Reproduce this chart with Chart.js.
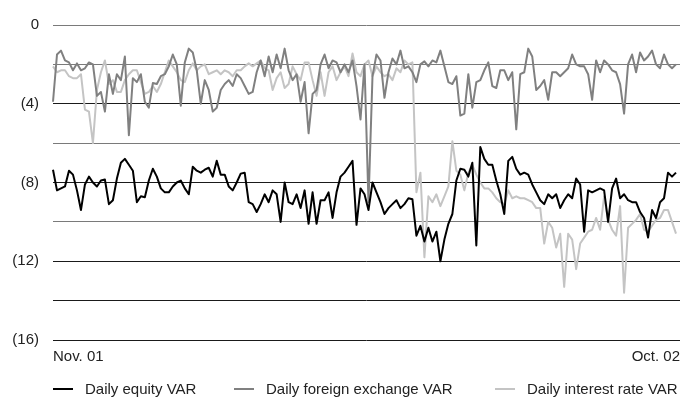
<!DOCTYPE html>
<html>
<head>
<meta charset="utf-8">
<script src="https://cdn.jsdelivr.net/npm/chart.js@4"></script>
<style>
  html, body { margin: 0; padding: 0; background: #fff; }
  #wrap { position: relative; width: 680px; height: 401px; }
  #legend { position: absolute; left: 0; top: 379px; width: 680px; height: 20px;
            font-family: "Liberation Sans", Arial, sans-serif; font-size: 15px; color: #222; }
  .item { position: absolute; top: 0; height: 20px; line-height: 20px; white-space: nowrap; }
  .dash { display: inline-block; width: 20px; height: 2px; vertical-align: middle; margin-right: 12px; position: relative; top: -1px; }
</style>
</head>
<body>
<div id="wrap">
  <canvas id="c" width="680" height="401"></canvas>
  <div id="legend"></div>
</div>
<script>
// ---- Data (VAR, negative values) ----
const tickLabels = ['Nov. 01', 'Oct. 02'];
const seriesNames = ['Daily equity VAR', 'Daily foreign exchange VAR', 'Daily interest rate VAR'];

const equityVar = [
 -7.35,-8.4,-8.3,-8.2,-7.4,-7.6,-8.4,-9.4,-8.1,-7.7,
 -8.0,-8.2,-7.9,-7.85,-9.1,-8.9,-7.8,-7.0,-6.8,-7.1,
 -7.4,-9.0,-8.7,-8.75,-7.9,-7.3,-7.7,-8.3,-8.5,-8.5,
 -8.2,-8.0,-7.9,-8.3,-8.6,-7.2,-7.4,-7.5,-7.35,-7.25,
 -7.7,-6.9,-7.6,-7.6,-8.2,-8.4,-8.0,-7.55,-7.5,-9.0,
 -9.1,-9.5,-9.1,-8.6,-9.0,-8.4,-8.6,-10.0,-8.0,-9.0,
 -9.1,-8.6,-9.3,-8.4,-10.1,-8.5,-10.1,-8.9,-8.9,-8.5,
 -9.8,-8.5,-7.7,-7.5,-7.2,-6.9,-10.15,-8.3,-8.6,-9.4,
 -8.0,-8.5,-9.0,-9.6,-9.3,-9.1,-8.9,-9.3,-9.1,-8.8,
 -8.85,-10.7,-10.2,-11.0,-10.3,-11.0,-10.5,-12.0,-10.9,-10.1,
 -9.6,-7.9,-7.3,-7.35,-7.7,-7.0,-11.2,-6.2,-6.8,-7.1,
 -7.1,-7.9,-8.6,-9.6,-6.9,-6.7,-7.3,-7.6,-7.5,-7.6,
 -8.1,-8.5,-8.9,-9.1,-8.6,-8.8,-8.6,-9.3,-8.9,-8.6,
 -8.8,-7.8,-8.1,-10.5,-8.4,-8.5,-8.4,-8.3,-8.4,-10.0,
 -8.3,-7.8,-8.8,-8.6,-8.9,-9.0,-9.0,-9.5,-9.8,-10.8,
 -9.4,-9.8,-9.0,-8.8,-7.5,-7.7,-7.5
];

const fxVar = [
 -3.9,-1.5,-1.3,-1.8,-1.9,-2.3,-1.95,-2.3,-2.2,-1.9,
 -2.0,-3.6,-3.4,-4.4,-2.5,-3.5,-2.5,-2.8,-1.6,-5.6,
 -2.7,-2.9,-2.5,-3.9,-4.2,-2.95,-3.0,-2.6,-2.5,-2.1,
 -1.5,-2.0,-4.1,-1.9,-1.2,-1.4,-2.3,-4.0,-2.8,-3.3,
 -4.4,-4.2,-3.3,-3.0,-2.8,-3.1,-2.5,-2.7,-3.1,-3.5,
 -3.4,-2.4,-1.8,-2.6,-1.6,-2.4,-1.5,-2.2,-1.2,-2.3,
 -2.8,-2.5,-3.9,-2.9,-5.5,-3.5,-3.3,-2.0,-1.5,-2.2,
 -1.8,-1.9,-2.4,-2.0,-2.4,-1.8,-3.1,-4.8,-2.0,-9.0,
 -2.6,-1.5,-1.8,-3.7,-2.4,-1.7,-2.0,-1.3,-2.2,-2.1,
 -2.4,-2.9,-2.0,-1.85,-2.1,-1.8,-1.9,-1.3,-2.1,-2.9,
 -3.0,-2.6,-4.6,-4.5,-2.5,-4.2,-2.9,-2.8,-2.3,-1.9,
 -3.1,-3.2,-2.3,-2.3,-2.8,-2.4,-5.3,-2.5,-2.4,-1.2,
 -1.6,-3.3,-3.1,-2.8,-3.8,-2.4,-2.4,-2.6,-2.4,-2.2,
 -1.5,-2.0,-2.1,-2.1,-2.5,-3.8,-1.8,-2.4,-1.8,-2.0,
 -2.3,-2.4,-3.0,-4.5,-2.0,-1.5,-2.4,-1.4,-1.8,-1.6,
 -1.3,-2.0,-2.2,-1.5,-2.0,-2.2,-2.0
];

const irVar = [
 -2.1,-2.4,-2.3,-2.3,-2.6,-2.7,-2.7,-2.5,-4.3,-4.4,
 -6.0,-3.3,-2.4,-1.8,-3.0,-2.8,-3.4,-3.4,-2.8,-2.5,
 -2.3,-2.3,-2.9,-3.5,-3.4,-3.1,-3.4,-3.0,-2.4,-1.8,
 -2.1,-2.4,-2.8,-2.9,-2.3,-1.95,-2.3,-2.1,-2.0,-2.5,
 -2.4,-2.3,-2.5,-2.3,-2.4,-2.6,-2.3,-2.3,-2.1,-1.95,
 -2.1,-1.95,-1.8,-2.2,-2.3,-3.3,-2.7,-2.4,-3.2,-3.0,
 -2.1,-2.5,-2.8,-1.9,-1.9,-2.8,-3.6,-2.4,-3.6,-2.4,
 -2.1,-2.8,-2.4,-2.1,-2.6,-1.45,-2.4,-2.6,-2.0,-1.8,
 -2.6,-2.1,-2.4,-2.6,-2.5,-2.8,-2.2,-2.4,-1.8,-2.0,
 -1.9,-8.5,-7.5,-11.8,-8.7,-9.0,-8.6,-9.2,-8.7,-8.2,
 -5.9,-7.4,-7.6,-8.4,-7.5,-7.1,-7.6,-8.0,-8.3,-8.3,
 -8.5,-8.8,-9.0,-9.1,-8.4,-8.8,-8.7,-8.8,-8.8,-8.9,
 -9.0,-9.3,-9.3,-11.1,-10.0,-10.3,-11.3,-10.6,-13.3,-10.6,
 -10.9,-12.4,-11.1,-10.8,-10.5,-10.4,-9.8,-10.4,-8.7,-9.9,
 -10.4,-10.7,-9.2,-13.6,-10.3,-10.1,-9.9,-9.6,-10.4,-10.5,
 -10.2,-9.9,-9.8,-9.4,-9.4,-10.0,-10.6
];

// ---- Build chart ----
const colors = ['#000000', '#808080', '#c4c4c4'];
const nDays = equityVar.length;
// one category per trading day, plus a closing slot for the end-of-period label
const categories = [];
for (let i = 0; i <= nDays; i++) categories.push('');
categories[0] = tickLabels[0];
categories[nDays] = tickLabels[1];

const FONT = '"Liberation Sans", Arial, sans-serif';
const gridColorFor = (v) => {
  const a = Math.abs(v);
  if (a === 4 || a === 8 || a === 12 || a === 14 || a === 16) return '#1a1a1a';
  return '#7a7a7a';
};

new Chart(document.getElementById('c'), {
  type: 'line',
  data: {
    labels: categories,
    datasets: [
      { label: seriesNames[0], data: equityVar, borderColor: colors[0], borderWidth: 2 },
      { label: seriesNames[1], data: fxVar, borderColor: colors[1], borderWidth: 2 },
      { label: seriesNames[2], data: irVar, borderColor: colors[2], borderWidth: 2 }
    ]
  },
  options: {
    responsive: false,
    animation: false,
    events: [],
    layout: { padding: { top: 25, right: 0, left: 0, bottom: 0 } },
    elements: { point: { radius: 0 }, line: { tension: 0, borderJoinStyle: 'round' } },
    plugins: { legend: { display: false }, tooltip: { enabled: false } },
    scales: {
      x: {
        type: 'category',
        offset: false,
        grid: { display: false, drawTicks: false },
        border: { display: false },
        ticks: {
          autoSkip: false, maxRotation: 0, minRotation: 0, align: 'inner', padding: 8,
          color: '#222', font: { family: FONT, size: 15 },
          callback: function (v, i) { const l = this.getLabelForValue(v); return l === '' ? null : l; }
        },
        afterFit: (s) => { s.height = 61; s.paddingLeft = 0; s.paddingRight = 0; }
      },
      y: {
        min: -16, max: 0,
        grid: {
          drawTicks: false,
          color: (ctx) => gridColorFor(ctx.tick.value),
          lineWidth: 1
        },
        border: { display: false },
        ticks: {
          stepSize: 2, padding: 14, color: '#222', font: { family: FONT, size: 15 },
          callback: (v) => (v % 4 === 0 ? (v === 0 ? '0' : '(' + (-v) + ')') : '')
        },
        afterFit: (s) => { s.width = 53; }
      }
    }
  }
});

// ---- Legend ----
const legendLeft = [53, 234, 495];
const legend = document.getElementById('legend');
seriesNames.forEach((name, i) => {
  const it = document.createElement('div');
  it.className = 'item';
  it.style.left = legendLeft[i] + 'px';
  const d = document.createElement('span');
  d.className = 'dash';
  d.style.background = colors[i];
  it.appendChild(d);
  it.appendChild(document.createTextNode(name));
  legend.appendChild(it);
});
</script>
</body>
</html>
